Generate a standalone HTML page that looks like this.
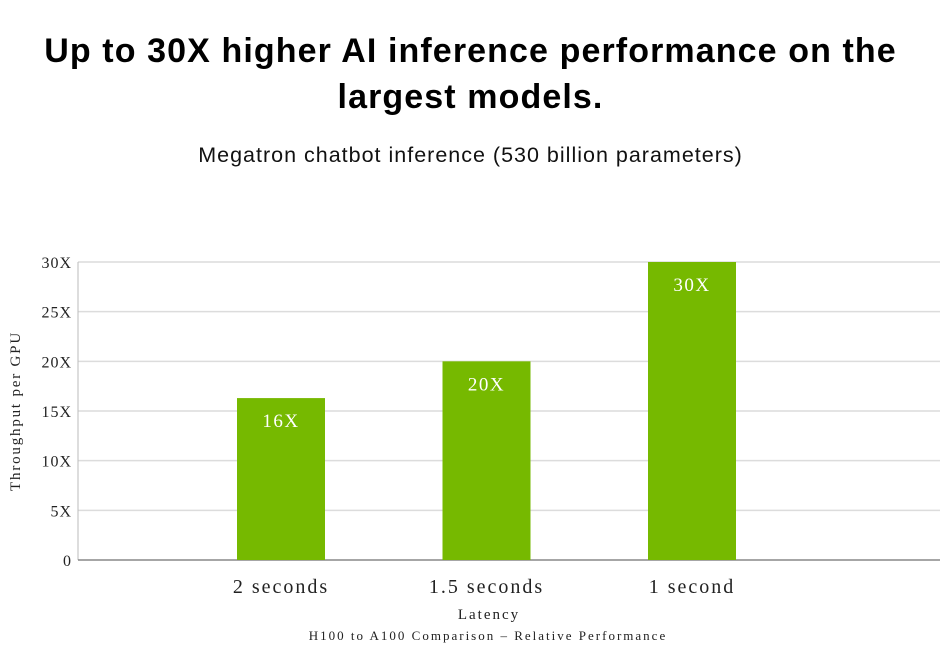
<!DOCTYPE html>
<html><head><meta charset="utf-8"><style>
body{margin:0;background:#fff;width:951px;height:658px;overflow:hidden;font-family:"Liberation Sans",sans-serif}
#title{position:absolute;left:0;width:941px;top:28px;text-align:center;font-weight:bold;font-size:34px;letter-spacing:1.1px;line-height:46px;color:#000}
#sub{position:absolute;left:0;width:941px;top:143px;text-align:center;font-size:21.5px;letter-spacing:1px;color:#111}
svg{position:absolute;left:0;top:0}
</style></head><body>
<div id="title">Up to 30X higher AI inference performance on the<br>largest models.</div>
<div id="sub">Megatron chatbot inference (530 billion parameters)</div>
<svg id="chart" width="951" height="658"></svg>
<script>
const categories = ["2 seconds","1.5 seconds","1 second"];
const values = [16.3, 20, 30];
const valueLabels = ["16X","20X","30X"];
const ticks = [0,5,10,15,20,25,30];
const tickLabels = ["0","5X","10X","15X","20X","25X","30X"];
const NS="http://www.w3.org/2000/svg";
const svg=document.getElementById('chart');
const x0=78,x1=940,y0=560,y1=262,vmax=30;
const y=v=>y0-(v/vmax)*(y0-y1);
const xc=i=>281+i*205.5;
const bw=88;
function mk(t,a){const e=document.createElementNS(NS,t);for(const k in a)e.setAttribute(k,a[k]);svg.appendChild(e);return e;}
ticks.forEach((t,i)=>{
  if(t>0){const g=mk('line',{x1:x0,x2:x1,y1:y(t),y2:y(t),stroke:'#dcdcdc','stroke-width':1.5});
  
  }
  const l=mk('text',{x:72,y:y(t)+6,'text-anchor':'end','font-family':'Liberation Serif, serif','font-size':16,'letter-spacing':'1',fill:'#222'});
  l.textContent=tickLabels[i];
  
  
});
const ax=mk('line',{x1:x0,x2:x0,y1:y1,y2:y0,stroke:'#bbb','stroke-width':1});


const bx=mk('line',{x1:x0,x2:x1,y1:y0,y2:y0,stroke:'#888','stroke-width':1.5});


categories.forEach((c,i)=>{
  const r=mk('rect',{x:xc(i)-bw/2,y:y(values[i]),width:bw,height:y0-y(values[i]),fill:'#76b900'});
  
  
  const v=mk('text',{x:xc(i),y:y(values[i])+29,'text-anchor':'middle','font-family':'Liberation Serif, serif','font-size':19,'letter-spacing':'1.5',fill:'#fff'});
  v.textContent=valueLabels[i];
  
  
  const t=mk('text',{x:xc(i),y:593,'text-anchor':'middle','font-family':'Liberation Serif, serif','font-size':20,'letter-spacing':'2',fill:'#222'});
  t.textContent=c;
  
  
});
const xt=mk('text',{x:489,y:619,'text-anchor':'middle','font-family':'Liberation Serif, serif','font-size':15,'letter-spacing':'2',fill:'#222'});
xt.textContent='Latency';


const ft=mk('text',{x:488,y:640,'text-anchor':'middle','font-family':'Liberation Serif, serif','font-size':13,'letter-spacing':'2',fill:'#222'});
ft.textContent='H100 to A100 Comparison – Relative Performance';


const yt=mk('text',{x:0,y:0,'text-anchor':'middle','font-family':'Liberation Serif, serif','font-size':15,'letter-spacing':'1.8',fill:'#222',transform:'translate(20,411) rotate(-90)'});
yt.textContent='Throughput per GPU';


</script>
</body></html>
